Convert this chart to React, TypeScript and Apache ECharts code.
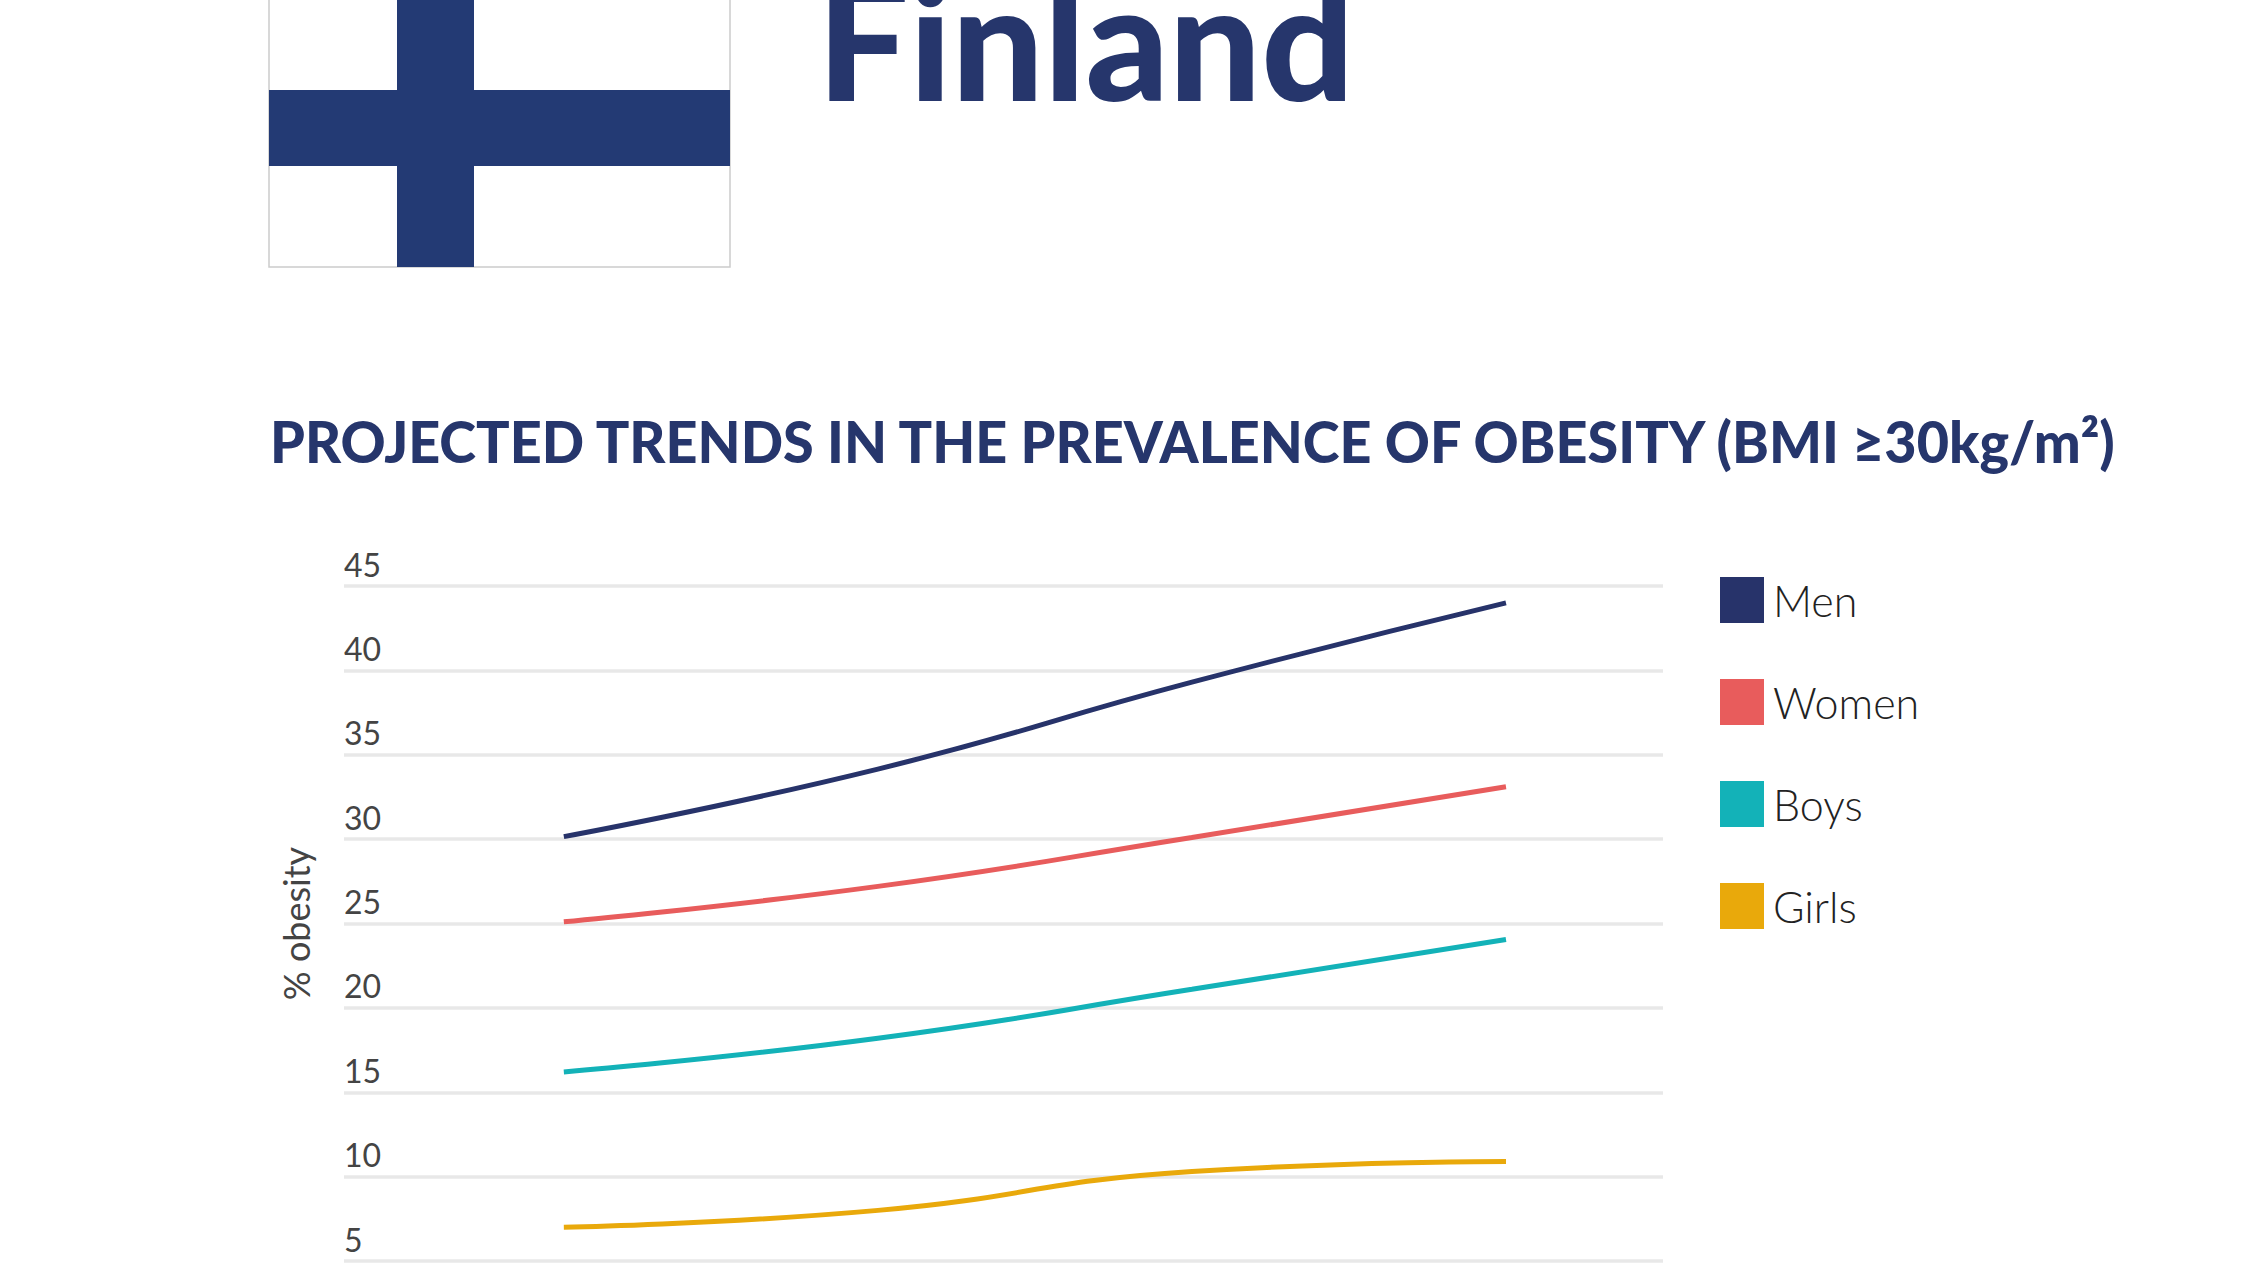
import React, { useEffect, useRef } from 'react';
import * as echarts from 'echarts';

const years = [2010, 2015, 2020, 2025];
const men = [30.15, 34.15, 39.3, 44.0];
const women = [25.1, 27.2, 30.1, 33.1];
const boys = [16.2, 18.2, 21.1, 24.05];
const girls = [7.0, 8.0, 10.3, 10.9];
const seriesNames = ['Men', 'Women', 'Boys', 'Girls'];
const seriesColors = ['#27336a', '#e85c5c', '#13b2b8', '#e9a90b'];

const NAVY = '#26366c';

const App: React.FC = () => {
  const chartRef = useRef<HTMLDivElement>(null);

  useEffect(() => {
    if (!chartRef.current) return;
    const chart = echarts.init(chartRef.current, undefined, { renderer: 'svg' });
    const values = [men, women, boys, girls];

    chart.setOption({
      animation: false,
      backgroundColor: '#ffffff',
      grid: { left: 344, right: 587, top: 586, bottom: 4 },
      legend: {
        orient: 'vertical',
        left: 1715,
        top: 572,
        icon: 'rect',
        itemWidth: 44,
        itemHeight: 46,
        itemGap: 56,
        data: seriesNames,
        textStyle: {
          fontFamily: 'Lato',
          fontWeight: 300,
          fontSize: 43,
          color: '#222222',
          padding: [0, 0, 0, 4],
        },
      },
      xAxis: {
        type: 'value',
        min: 2006.5,
        max: 2027.5,
        show: false,
      },
      yAxis: {
        type: 'value',
        min: 5,
        max: 45,
        interval: 5,
        name: '% obesity',
        nameLocation: 'middle',
        nameRotate: 90,
        nameGap: 30,
        nameTextStyle: { fontFamily: 'Lato', fontSize: 36, color: '#444444' },
        axisLine: { show: false },
        axisTick: { show: false },
        axisLabel: {
          inside: true,
          align: 'left',
          verticalAlign: 'bottom',
          margin: 0,
          padding: [0, 0, 6, 0],
          fontFamily: 'Lato',
          fontSize: 32,
          color: '#444444',
        },
        splitLine: { lineStyle: { color: '#e8e8e8', width: 3.5 } },
      },
      series: seriesNames.map((name, i) => ({
        name,
        type: 'line',
        smooth: 0.5,
        symbol: 'none',
        color: seriesColors[i],
        itemStyle: { color: seriesColors[i] },
        lineStyle: { color: seriesColors[i], width: 5 },
        data: years.map((y, j) => [y, values[i][j]]),
      })),
      graphic: [
        {
          type: 'rect',
          shape: { x: 269, y: -4, width: 461, height: 271 },
          style: { fill: '#ffffff', stroke: '#cccccc', lineWidth: 1.5 },
        },
        {
          type: 'rect',
          shape: { x: 397, y: -4, width: 77, height: 271 },
          style: { fill: '#233a74' },
        },
        {
          type: 'rect',
          shape: { x: 269, y: 90, width: 461, height: 76 },
          style: { fill: '#233a74' },
        },
        {
          type: 'text',
          x: 817,
          y: 119,
          style: {
            text: 'Finland',
            font: '900 163px Lato',
            fill: NAVY,
            verticalAlign: 'bottom',
          },
        },
        {
          type: 'text',
          x: 270,
          y: 441,
          scaleX: 0.961,
          style: {
            text: 'PROJECTED TRENDS IN THE PREVALENCE OF OBESITY (BMI ≥30kg/m²)',
            font: '900 58px Lato',
            fill: NAVY,
            verticalAlign: 'middle',
          },
        },
      ],
    });

    return () => {
      chart.dispose();
    };
  }, []);

  return (
    <div
      ref={chartRef}
      style={{ position: 'fixed', left: 0, top: 0, width: 2250, height: 1265 }}
    ></div>
  );
};

export default App;
